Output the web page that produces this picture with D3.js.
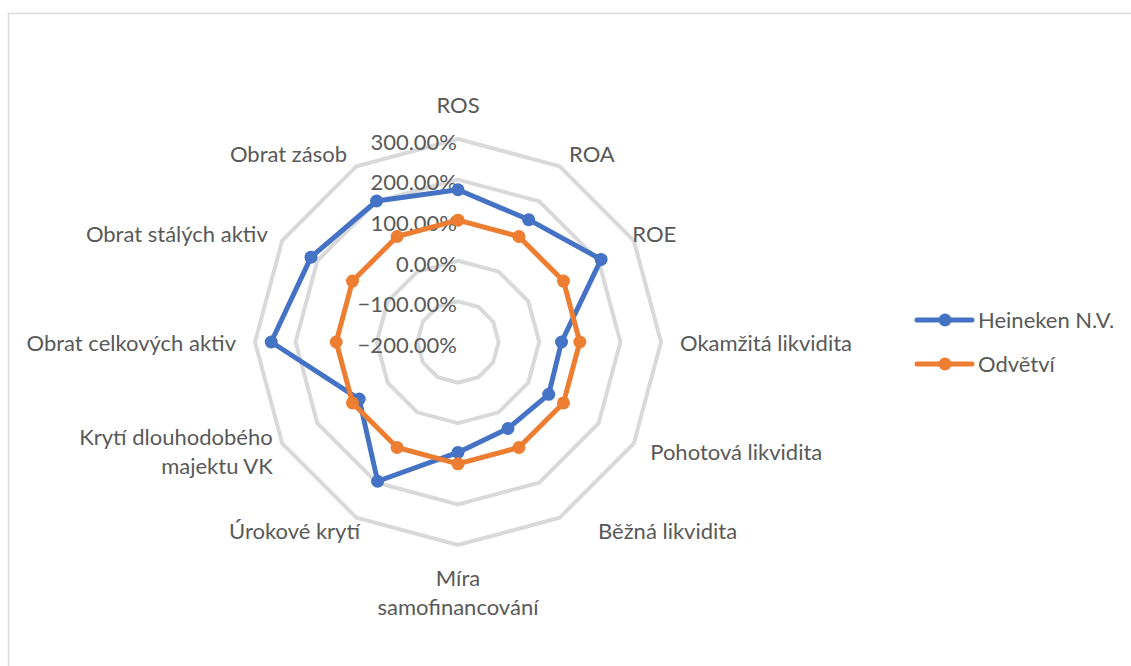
<!DOCTYPE html>
<html>
<head>
<meta charset="utf-8">
<script src="https://cdn.jsdelivr.net/npm/d3@7"></script>
<style>
  body { margin: 0; background: #fff; }
  svg { display: block; font-family: Lato, "Open Sans", sans-serif; }
</style>
</head>
<body>
<svg width="1131" height="666"></svg>
<script>
// chart data
var categories = ["ROS", "ROA", "ROE", "Okamžitá likvidita", "Pohotová likvidita",
  "Běžná likvidita", "Míra samofinancování", "Úrokové krytí",
  "Krytí dlouhodobého majektu VK", "Obrat celkových aktiv",
  "Obrat stálých aktiv", "Obrat zásob"];
var heineken = [175, 148, 207, 55, 58, 46, 72, 196, 81, 260, 218, 201];
var odvetvi = [100, 100, 100, 100, 100, 100, 100, 100, 100, 100, 100, 100];
var seriesNames = ["Heineken N.V.", "Odvětví"];
var seriesColors = ["#4472C4", "#ED7D31"];
var ticks = [-200, -100, 0, 100, 200, 300];

// label line breaks like the original
var labelLines = {
  "Míra samofinancování": ["Míra", "samofinancování"],
  "Krytí dlouhodobého majektu VK": ["Krytí dlouhodobého", "majektu VK"]
};
// small horizontal nudges of category labels (Excel's own placement)
var labelNudge = {
  "ROE": -18,
  "Běžná likvidita": 29,
  "Úrokové krytí": 13,
  "Krytí dlouhodobého majektu VK": 7,
  "Obrat stálých aktiv": 2
};

var width = 1131, height = 666;
var cx = 458, cy = 342, radius = 203;
var fontSize = 22;
var textColor = "#595959";

var svg = d3.select("svg");

// outer border of the chart area
svg.append("rect")
    .attr("x", 8.5).attr("y", 13.5)
    .attr("width", width).attr("height", height)
    .attr("fill", "none")
    .attr("stroke", "#D9D9D9")
    .attr("stroke-width", 1.5);

var rScale = d3.scaleLinear()
    .domain([ticks[0], ticks[ticks.length - 1]])
    .range([0, radius]);

var angle = d3.scaleLinear()
    .domain([0, categories.length])
    .range([0, 2 * Math.PI]);

var g = svg.append("g")
    .attr("transform", "translate(" + cx + "," + cy + ")");

// grid rings
var ringLine = d3.lineRadial()
    .angle((d, i) => angle(i))
    .radius(d => rScale(d))
    .curve(d3.curveLinearClosed);

g.selectAll(".ring")
  .data(ticks.slice(1))
  .enter()
  .append("path")
    .attr("class", "ring")
    .attr("d", t => ringLine(categories.map(() => t)))
    .attr("fill", "none")
    .attr("stroke", "#D9D9D9")
    .attr("stroke-width", 4)
    .attr("stroke-linejoin", "miter");

// value labels along the top axis
g.selectAll(".tick")
  .data(ticks)
  .enter()
  .append("text")
    .attr("x", -1)
    .attr("y", t => -rScale(t) + 3)
    .attr("dy", "0.35em")
    .style("text-anchor", "end")
    .style("font-size", fontSize + "px")
    .attr("fill", textColor)
    .text(t => d3.format(".2f")(t) + "%");

// category labels
var labelR = 222;
categories.forEach(function(c, i) {
  var a = angle(i);
  var sx = Math.sin(a), sy = -Math.cos(a);
  var x = labelR * sx + (labelNudge[c] || 0), y = labelR * sy;
  var anchor = sx > 0.1 ? "start" : (sx < -0.1 ? "end" : "middle");
  var lines = labelLines[c] || [c];
  var lh = fontSize * 1.3;
  var blockH = lines.length * lh;
  // only the top and bottom labels sit beyond the tip, the rest are centred on it
  var yc = Math.abs(sx) < 0.1 ? y + sy * blockH / 2 : y + 1 - 4 * sy;
  var t = g.append("text")
      .style("text-anchor", anchor)
      .style("font-size", fontSize + "px")
      .attr("fill", textColor);
  lines.forEach(function(l, k) {
    t.append("tspan")
      .attr("x", x)
      .attr("y", yc - blockH / 2 + lh * (k + 0.5))
      .attr("dy", "0.35em")
      .text(l);
  });
});

// series
var series = [heineken, odvetvi];
var valueLine = d3.lineRadial()
    .angle((d, i) => angle(i))
    .radius(d => rScale(d))
    .curve(d3.curveLinearClosed);

series.forEach(function(vals, s) {
  g.append("path")
    .attr("d", valueLine(vals))
    .attr("fill", "none")
    .attr("stroke", seriesColors[s])
    .attr("stroke-width", 5)
    .attr("stroke-linejoin", "round");
  g.selectAll(".m" + s)
    .data(vals)
    .enter()
    .append("circle")
      .attr("cx", (d, i) => rScale(d) * Math.sin(angle(i)))
      .attr("cy", (d, i) => -rScale(d) * Math.cos(angle(i)))
      .attr("r", 6.5)
      .attr("fill", seriesColors[s]);
});

// legend
var legend = svg.append("g")
    .attr("transform", "translate(917,320)");
seriesNames.forEach(function(n, s) {
  var row = legend.append("g")
      .attr("transform", "translate(0," + (s * 44) + ")");
  row.append("line")
    .attr("x1", 0).attr("x2", 55)
    .attr("stroke", seriesColors[s])
    .attr("stroke-width", 5)
    .attr("stroke-linecap", "round");
  row.append("circle")
    .attr("cx", 28).attr("r", 6.5)
    .attr("fill", seriesColors[s]);
  row.append("text")
    .attr("x", 61)
    .attr("dy", "0.35em")
    .style("font-size", fontSize + "px")
    .attr("fill", textColor)
    .text(n);
});
</script>
</body>
</html>
